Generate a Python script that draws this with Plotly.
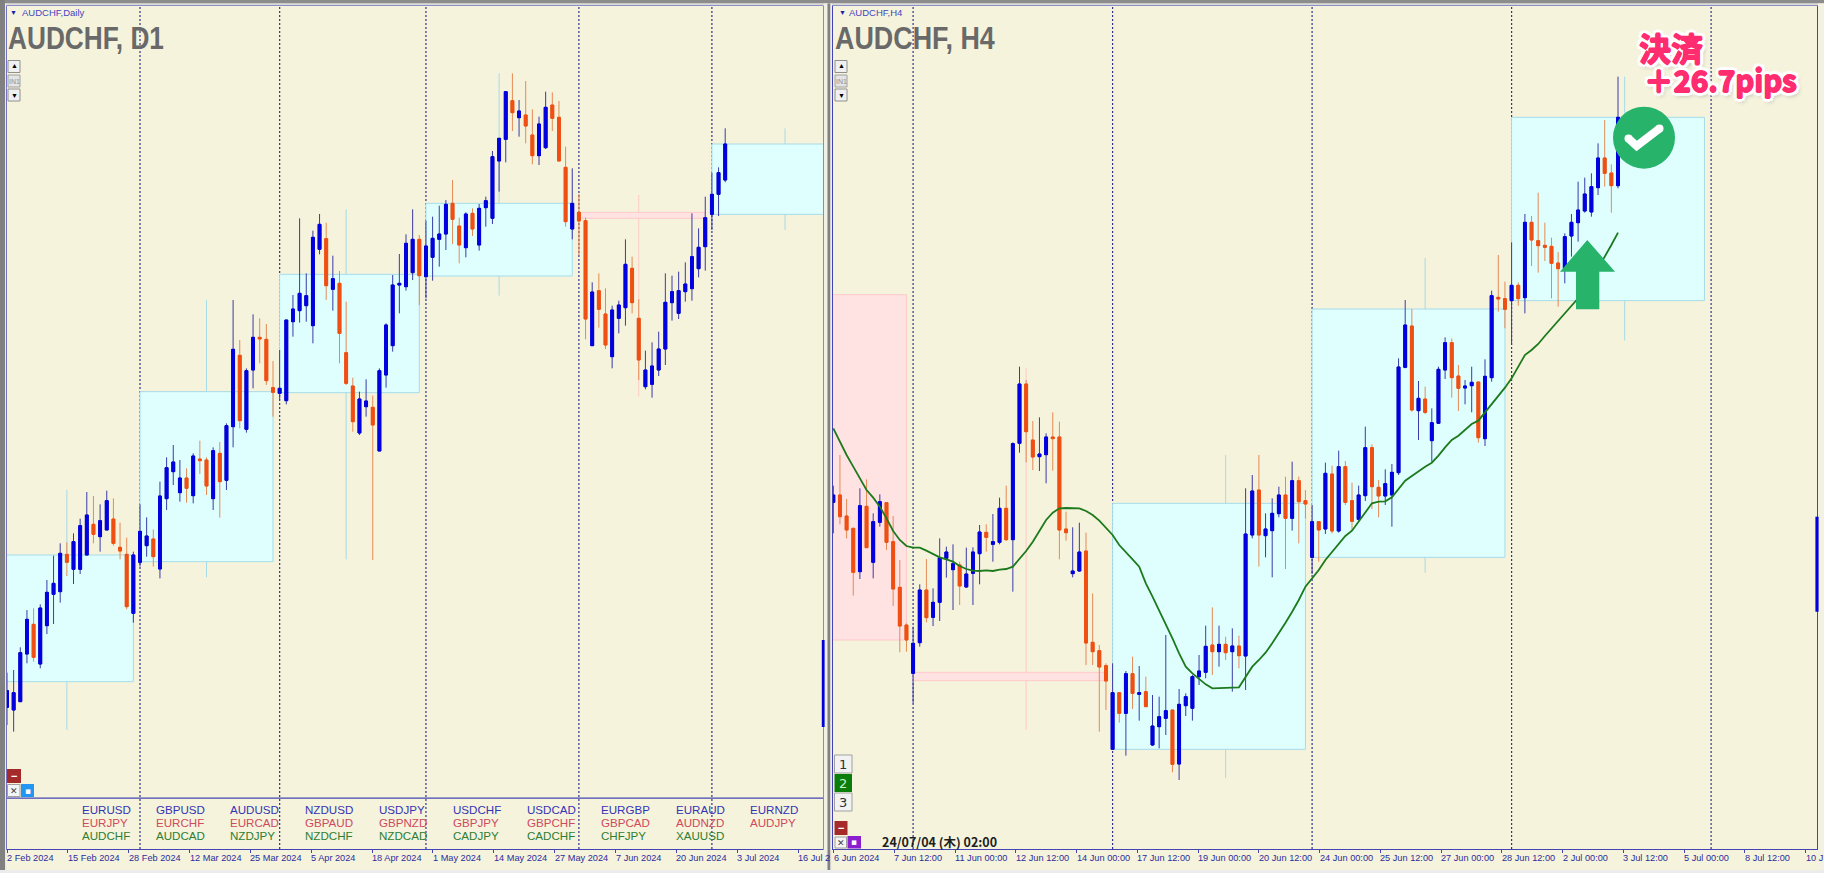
import plotly.graph_objects as go

W, H = 1824, 873

# All price levels are relative chart levels (the reference shows no price scale).
d1_open = [278,270,295,438,527,408,523,617,625,737,692,692,735,827,790,810,843,758,737,560,713,763,783,693,904,985,922,966,913,1023,1020,904,1040,959,1120,1334,1112,1290,1388,1382,1237,1220,1198,1435,1468,1483,1423,1652,1684,1532,1550,1342,1242,1101,1180,1178,1047,1275,1363,1545,1540,1582,1682,1570,1628,1682,1698,1790,1722,1657,1760,1665,1777,1745,1917,1982,2098,2047,2055,1995,1933,1957,2085,2048,1898,1713,1763,1738,1363,1528,1458,1330,1445,1477,1595,1445,1240,1247,1290,1353,1492,1460,1525,1534,1594,1660,1757,1817,1860]
d1_high = [382,390,458,570,575,587,660,733,770,773,800,844,924,912,887,928,905,832,787,745,887,848,812,955,1028,1065,1020,995,1040,1078,1028,1058,1074,1130,1500,1380,1295,1457,1445,1428,1317,1350,1440,1515,1745,1580,1708,1758,1732,1633,1587,1495,1267,1225,1262,1213,1295,1430,1575,1638,1697,1772,1695,1738,1750,1783,1800,1860,1747,1763,1775,1788,1810,1947,1985,2125,2180,2100,2157,2072,2050,2125,2123,2097,1960,1895,1818,1747,1553,1580,1535,1483,1498,1682,1630,1502,1348,1373,1405,1580,1573,1585,1613,1760,1715,1810,1882,1898,2015]
d1_low = [225,205,295,410,415,395,498,528,592,672,648,678,735,770,745,810,763,722,572,532,700,730,700,665,870,945,895,892,890,978,915,870,847,930,1058,1115,1102,1235,1310,1245,1150,1200,1187,1390,1432,1435,1370,1637,1500,1468,1310,1245,1105,1095,1150,720,1047,1237,1345,1460,1528,1560,1485,1505,1558,1600,1650,1668,1610,1628,1692,1648,1720,1728,1825,1913,2007,1990,1970,1907,1905,1953,2007,1917,1720,1682,1635,1382,1363,1417,1353,1295,1400,1423,1460,1260,1232,1207,1272,1305,1438,1443,1495,1498,1568,1588,1710,1752,1853]
d1_close = [328,322,442,542,428,576,623,650,740,713,775,823,855,797,838,898,770,747,580,735,806,792,730,912,997,1014,966,935,1032,1018,942,1048,955,1123,1352,1138,1288,1388,1383,1258,1223,1235,1440,1473,1520,1513,1688,1727,1543,1564,1400,1250,1135,1203,1197,1125,1288,1425,1545,1550,1670,1682,1573,1662,1685,1698,1787,1742,1665,1758,1713,1775,1798,1930,1985,2125,2062,2067,2022,1933,2028,2078,2045,1917,1735,1790,1737,1443,1524,1472,1365,1470,1485,1607,1492,1320,1290,1302,1353,1493,1525,1528,1548,1630,1658,1747,1817,1882,1968]

h4_open = [893,915,852,815,685,881,713,833,892,775,638,525,380,472,630,548,593,725,691,705,639,680,739,803,767,773,875,781,1070,1248,1080,1030,1036,1089,1089,813,679,687,747,473,448,403,152,322,260,379,317,325,165,220,245,270,108,283,275,370,383,465,445,467,445,462,432,795,930,793,808,859,915,845,958,898,728,835,813,978,807,1000,898,842,913,1057,938,912,915,982,1298,1422,1168,1203,1078,1130,1290,1372,1272,1236,1243,1254,1084,1267,1508,1504,1498,1544,1507,1733,1678,1664,1661,1611,1595,1692,1732,1767,1764,1837,1926,1881,1843]
h4_high = [943,1035,903,817,935,962,860,917,893,852,720,530,520,647,723,635,785,760,767,715,757,758,825,827,858,907,943,1073,1300,1260,1137,1148,1100,1163,1135,865,818,832,802,620,465,410,410,322,387,430,402,370,315,310,495,270,333,320,375,435,523,578,523,490,515,493,935,975,1035,860,905,940,970,1015,970,930,885,835,1012,1003,1048,1017,952,943,1120,1067,960,992,1008,1325,1500,1473,1257,1240,1175,1300,1388,1385,1305,1260,1300,1255,1322,1528,1635,1555,1673,1553,1758,1752,1822,1732,1687,1644,1700,1758,1855,1867,1880,1970,2040,1907,2170]
h4_low = [800,827,785,613,663,757,665,820,750,582,443,445,290,460,533,522,537,667,570,585,637,585,647,745,715,767,777,625,1042,1013,990,987,950,988,722,778,668,685,405,405,205,270,150,232,133,273,238,280,162,155,195,83,60,252,238,345,365,375,400,420,325,395,330,785,700,728,668,848,693,808,770,845,678,715,798,800,802,885,810,838,897,873,848,885,820,975,1295,1165,1080,1158,1015,1130,1263,1207,1167,1187,1163,1072,1062,1255,1465,1415,1365,1483,1460,1602,1582,1617,1505,1480,1550,1630,1675,1762,1750,1815,1840,1762,1835]
h4_close = [915,850,810,683,883,757,835,895,773,633,522,480,470,630,547,593,727,744,709,642,678,744,804,788,775,875,781,1069,1248,1105,1029,1038,1089,1084,810,802,687,744,471,445,399,357,322,260,379,320,322,280,222,250,268,107,287,310,370,387,461,445,467,442,462,433,798,927,795,813,860,915,845,958,895,888,835,810,980,807,1000,893,836,915,1057,940,912,949,983,1299,1425,1170,1205,1163,1132,1292,1372,1267,1235,1242,1253,1087,1271,1513,1503,1472,1544,1504,1733,1680,1663,1658,1610,1594,1690,1733,1770,1818,1840,1926,1880,1843,2048]
h4_ma = [1115,1073,1035,1000,965,930,907,880,845,807,780,762,757,757,748,737,728,722,715,702,693,688,687,689,687,691,693,700,722,747,775,808,840,862,875,876,876,875,867,855,838,818,795,765,745,722,700,650,610,570,525,485,440,400,380,362,347,335,335,335,337,338,370,400,420,442,470,500,532,565,600,640,665,690,720,745,770,792,808,835,862,890,895,896,908,933,958,972,987,1000,1012,1033,1058,1080,1093,1112,1128,1138,1163,1185,1210,1237,1265,1298,1335,1350,1368,1392,1415,1438,1460,1482,1505,1540,1565,1595,1628,1665,1702]

# Higher-timeframe boxes: start, end, centre, top, bottom, high, low, colour group
d1_box_start = [-1,20,41,63,86,106]
d1_box_end = [19,40,62,85,105,123]
d1_box_mid = [9,30,51,74,95,117]
d1_box_top = [735,1225,1577,1790,1763,1968]
d1_box_bottom = [355,715,1222,1572,1745,1757]
d1_box_high = [930,1500,1772,2180,1815,2015]
d1_box_low = [210,668,722,1513,1210,1710]
d1_box_up = [True,True,True,True,False,True]

h4_box_start = [-2,12,42,72,102]
h4_box_end = [11,41,71,101,131]
h4_box_mid = [None,29,59,89,119]
h4_box_top = [1516,383,890,1473,2048]
h4_box_bottom = [480,358,152,728,1498]
h4_box_high = [1516,1295,1035,1626,2170]
h4_box_low = [480,210,66,682,1378]
h4_box_up = [False,False,True,True,True]

d1_separators = [20,41,63,86,106]
h4_separators = [12,42,72,102,132]

d1_tick_labels = ["2 Feb 2024","15 Feb 2024","28 Feb 2024","12 Mar 2024","25 Mar 2024","5 Apr 2024","18 Apr 2024","1 May 2024","14 May 2024","27 May 2024","7 Jun 2024","20 Jun 2024","3 Jul 2024","16 Jul 2"]
h4_tick_labels = ["6 Jun 2024","7 Jun 12:00","11 Jun 00:00","12 Jun 12:00","14 Jun 00:00","17 Jun 12:00","19 Jun 00:00","20 Jun 12:00","24 Jun 00:00","25 Jun 12:00","27 Jun 00:00","28 Jun 12:00","2 Jul 00:00","3 Jul 12:00","5 Jul 00:00","8 Jul 12:00","10 J"]

pairs_blue = ["EURUSD","GBPUSD","AUDUSD","NZDUSD","USDJPY","USDCHF","USDCAD","EURGBP","EURAUD","EURNZD"]
pairs_red = ["EURJPY","EURCHF","EURCAD","GBPAUD","GBPNZD","GBPJPY","GBPCHF","GBPCAD","AUDNZD","AUDJPY"]
pairs_green = ["AUDCHF","AUDCAD","NZDJPY","NZDCHF","NZDCAD","CADJPY","CADCHF","CHFJPY","XAUUSD"]

for a in (d1_high, d1_low, d1_close):
    assert len(a) == len(d1_open)
for a in (h4_high, h4_low, h4_close, h4_ma):
    assert len(a) == len(h4_open)

CREAM = "#f5f3dc"; CYAN = "#dfffff"; CYAN_EDGE = "#a6dbe8"; PINK = "#ffe2e2"; PINK_EDGE = "#ffc9c9"
BLUE = "#0000e0"; ORANGE = "#f04e12"; BLUE_WICK = "#3a3aa8"; ORANGE_WICK = "#e58a55"
FRAME = "#4444b4"; SEP = "#33338c"; LABEL = "#2c2c9c"; GREEN = "#27b36a"

CHART_TOP, CHART_BOTTOM = 6, 849
STEP = 6.65
L_X0, L_X1, L_I0 = 7, 823, 7
R_X0, R_X1, R_I0 = 832.5, 1817, 833.3
Y_RANGE = [2400 - 3 * CHART_BOTTOM, 2400 - 3 * CHART_TOP]


def px(x):
    return x / W


def py(y):
    return 1 - y / H


def candle_traces(o, h, l, c, xa, ya):
    x = list(range(len(o)))
    wick = go.Candlestick(
        x=x, open=o, high=h, low=l, close=c, xaxis=xa, yaxis=ya, whiskerwidth=0,
        increasing=dict(line=dict(color=BLUE_WICK, width=1), fillcolor=BLUE),
        decreasing=dict(line=dict(color=ORANGE_WICK, width=1), fillcolor=ORANGE),
        showlegend=False, hoverinfo="skip")
    body = go.Candlestick(
        x=x, open=o, close=c,
        high=[max(a, b) for a, b in zip(o, c)], low=[min(a, b) for a, b in zip(o, c)],
        xaxis=xa, yaxis=ya, whiskerwidth=0,
        increasing=dict(line=dict(color=BLUE, width=1), fillcolor=BLUE),
        decreasing=dict(line=dict(color=ORANGE, width=1), fillcolor=ORANGE),
        showlegend=False, hoverinfo="skip")
    return [wick, body]


shapes = []
ann = []


def rect(x0, y0, x1, y1, fill, line=None, lw=1):
    shapes.append(dict(type="rect", xref="paper", yref="paper", x0=px(x0), x1=px(x1), y0=py(y0), y1=py(y1),
                       fillcolor=fill, line=dict(color=line or fill, width=lw if line else 0), layer="above"))


def text(x, y, s, size, color, anchor="left", family="Liberation Sans", **font):
    ann.append(dict(xref="paper", yref="paper", x=px(x), y=py(y), text=s, showarrow=False, xanchor=anchor,
                    yanchor="middle", align="left", borderpad=0,
                    font=dict(family=family, size=size, color=color, **font)))


def separators(vals, xa, ya):
    for v in vals:
        shapes.append(dict(type="line", xref=xa, yref=ya, x0=v, x1=v, y0=Y_RANGE[0], y1=Y_RANGE[1], layer="below",
                           line=dict(color=SEP, width=1.2, dash="2px,2px")))


def boxes(start, end, mid, top, bottom, high, low, up, xa, ya):
    for i in range(len(start)):
        fill, edge = (CYAN, CYAN_EDGE) if up[i] else (PINK, PINK_EDGE)
        if mid[i] is not None:
            shapes.append(dict(type="line", xref=xa, yref=ya, x0=mid[i], x1=mid[i], y0=low[i], y1=high[i],
                               layer="below", line=dict(color=edge, width=1)))
        shapes.append(dict(type="rect", xref=xa, yref=ya, x0=start[i], x1=end[i], y0=bottom[i], y1=top[i],
                           layer="below", fillcolor=fill, line=dict(color=edge, width=1)))


separators(d1_separators, "x", "y")
separators(h4_separators, "x2", "y2")
boxes(d1_box_start, d1_box_end, d1_box_mid, d1_box_top, d1_box_bottom, d1_box_high, d1_box_low, d1_box_up, "x", "y")
boxes(h4_box_start, h4_box_end, h4_box_mid, h4_box_top, h4_box_bottom, h4_box_high, h4_box_low, h4_box_up, "x2", "y2")

traces = candle_traces(d1_open, d1_high, d1_low, d1_close, "x", "y")
traces += candle_traces(h4_open, h4_high, h4_low, h4_close, "x2", "y2")
traces.append(go.Scatter(x=list(range(len(h4_ma))), y=h4_ma, mode="lines", xaxis="x2", yaxis="y2", showlegend=False,
                         hoverinfo="skip", line=dict(color="#1c7a1c", width=1.8)))

# Window chrome
rect(0, 0, W, 3.5, "#8c8c8c")
rect(0, 3.5, W, 5.5, "#d8d8d8")
rect(0, 0, 5, 870, "#808080")
rect(5, 3.5, 6.3, 870, "#e8e8e8")
rect(823.6, 3.5, 827.5, 873, "#f0f0e4")
rect(827.5, 3.5, 830.5, 873, "#808080")
rect(830.5, 3.5, 832, 873, "#ececec")
rect(1818, 3.5, W, 873, "#f3f2e2")
rect(0, 870, W, 873, "#ececec")
# D1 indicator panel separator
rect(7, 797.4, 823, 798.8, FRAME)
# Position bars at the right edge of each window
rect(821.8, 640, 824.6, 727, "#0000d8")
rect(1815.4, 516.7, 1818.6, 611.7, "#0000d8")

# Window captions
text(9, 13, "▼", 7, "#2020b0")
text(21, 13, "AUDCHF,Daily", 9.5, "#4444c0")
text(838, 13, "▼", 7, "#2020b0")
text(848, 13, "AUDCHF,H4", 9.5, "#4444c0")
text(7, 38.5, "<b>AUDCHF, D1</b>", 32, "#696969")
text(833.5, 38.5, "<b>AUDCHF, H4</b>", 32, "#696969")

# Chart scroll buttons
for x0 in (8, 835):
    rect(x0, 60.5, x0 + 12, 72.5, "#f0f0f0", "#909090")
    text(x0 + 6, 66, "▲", 7, "#000000", anchor="center")
    rect(x0, 75, x0 + 12, 87, "#e4e4e4", "#a0a0a0")
    text(x0 + 6, 81, "IN1", 7, "#909090", anchor="center")
    rect(x0, 89, x0 + 12, 101, "#f0f0f0", "#909090")
    text(x0 + 6, 95, "▼", 7, "#000000", anchor="center")

# D1 bottom-left buttons
rect(7, 769, 21, 783, "#a52a2a")
text(14, 775.5, "<b>−</b>", 11, "#ffffff", anchor="center")
rect(7.5, 784.5, 20, 796.5, "#f4f4f4", "#a0a0a0")
text(13.7, 790.5, "✕", 9, "#404040", anchor="center", family="DejaVu Sans")
rect(21, 784, 34, 797, "#2196f3")
text(27.5, 790.5, "▪", 9, "#ffffff", anchor="center", family="DejaVu Sans")

# H4 bottom-left buttons
for y0, lab, fill, col in ((755, "1", "#f2f2f2", "#303030"), (774, "2", "#0a7d0a", "#c8f0c8"), (793, "3", "#f2f2f2", "#303030")):
    rect(834.5, y0, 852, y0 + 18, fill, "#a0a0a0" if fill != "#0a7d0a" else None)
    text(843.2, y0 + 9.2, lab, 13, col, anchor="center", family="DejaVu Sans")
rect(834.5, 821, 847.5, 835, "#a52a2a")
text(841, 827.5, "<b>−</b>", 11, "#ffffff", anchor="center")
rect(835, 837, 846.5, 848, "#f4f4f4", "#a0a0a0")
text(840.7, 842.5, "✕", 9, "#404040", anchor="center", family="DejaVu Sans")
rect(847.5, 836, 861, 848.5, "#8a1fd0")
text(854.2, 842.3, "▪", 9, "#ffffff", anchor="center", family="DejaVu Sans")
text(881, 841, "<b>24/07/04 (木) 02:00</b>", 12.5, "#1e1e1e", family="Noto Sans CJK JP")

# Pair list in the D1 indicator panel
PAIR_X0, PAIR_DX = 81, 74.2
for row_y, names, color in ((809, pairs_blue, "#3434b4"), (822, pairs_red, "#cf4a5c"), (835, pairs_green, "#2e7d32")):
    for k, name in enumerate(names):
        text(PAIR_X0 + PAIR_DX * k, row_y, name, 11.6, color)

# Tick labels, left-aligned at their ticks
D1_TICK_STEP = 60.85 / STEP
H4_TICK_STEP = 60.75 / STEP
d1_ticks = [k * D1_TICK_STEP for k in range(len(d1_tick_labels))]
h4_ticks = [0.06 + k * H4_TICK_STEP for k in range(len(h4_tick_labels))]
for t, s in zip(d1_ticks, d1_tick_labels):
    ann.append(dict(xref="x", yref="paper", x=t, y=py(857.5), text=s, showarrow=False, xanchor="left", yanchor="middle",
                    xshift=-1, borderpad=0, font=dict(family="Liberation Sans", size=9.2, color=LABEL)))
for t, s in zip(h4_ticks, h4_tick_labels):
    ann.append(dict(xref="x2", yref="paper", x=t, y=py(857.5), text=s, showarrow=False, xanchor="left", yanchor="middle",
                    xshift=-1, borderpad=0, font=dict(family="Liberation Sans", size=9.2, color=LABEL)))

# Trade annotations
arrow = [(1587.3, 240), (1615, 271.7), (1599.3, 271.7), (1599.3, 309.3), (1576, 309.3), (1576, 271.7), (1560, 271.7)]
shapes.append(dict(type="path", xref="paper", yref="paper", layer="above", fillcolor=GREEN, line=dict(width=0),
                   path="M " + " L ".join(f"{px(a):.5f} {py(b):.5f}" for a, b in arrow) + " Z"))
shapes.append(dict(type="circle", xsizemode="pixel", ysizemode="pixel", xref="paper", yref="paper",
                   xanchor=px(1644), yanchor=py(137.7), x0=-31, x1=31, y0=-31, y1=31,
                   layer="above", fillcolor=GREEN, line=dict(width=0)))
check = [(1628.5, 138.5), (1636.7, 146), (1659.5, 128.5)]
shapes.append(dict(type="path", xref="paper", yref="paper", layer="above", line=dict(color="#ffffff", width=8),
                   path="M " + " L ".join(f"{px(a):.5f} {py(b):.5f}" for a, b in check)))
for a, b in (check[0], check[2]):
    shapes.append(dict(type="circle", xsizemode="pixel", ysizemode="pixel", xref="paper", yref="paper",
                       xanchor=px(a), yanchor=py(b), x0=-4, x1=4, y0=-4, y1=4, layer="above",
                       fillcolor="#ffffff", line=dict(width=0)))

PINK_TEXT = "#ff2d6f"
FAKE_BOLD = [f"{a}px {b}px 0 {PINK_TEXT}" for a, b in ((0.8, 0), (-0.8, 0), (0, 0.8), (0, -0.8))]
WHITE_RING = [f"{a}px {b}px 1px #ffffff" for a, b in ((4, 0), (-4, 0), (0, 4), (0, -4), (3, 3), (-3, 3), (3, -3), (-3, -3))]
SHADOW = ",".join(FAKE_BOLD + WHITE_RING + ["2px 3px 5px #888888"])
text(1638, 47, "<b>決済</b>", 32, PINK_TEXT, family="Noto Sans CJK JP", shadow=SHADOW)
text(1643, 78.5, "<b>＋26.7pips</b>", 29.5, PINK_TEXT, family="Noto Sans CJK JP", shadow=SHADOW)


def axis_style(**kw):
    return dict(showgrid=False, zeroline=False, showline=True, linecolor=FRAME, linewidth=1, mirror=True,
                showticklabels=False, **kw)


fig = go.Figure(traces)
fig.update_layout(
    width=W, height=H, autosize=False, margin=dict(l=0, r=0, t=0, b=0, pad=0), paper_bgcolor=CREAM, plot_bgcolor=CREAM,
    showlegend=False, boxmode="overlay", boxgap=0.38, shapes=shapes, annotations=ann, hovermode=False,
    xaxis=axis_style(domain=[px(L_X0), px(L_X1)], range=[(L_X0 - L_I0) / STEP, (L_X1 - L_I0) / STEP], anchor="y",
                     tickmode="array", tickvals=d1_ticks, ticks="outside", ticklen=3, tickcolor=FRAME, rangeslider=dict(visible=False)),
    yaxis=axis_style(domain=[py(CHART_BOTTOM), py(CHART_TOP)], range=Y_RANGE, anchor="x", ticks=""),
    xaxis2=axis_style(domain=[px(R_X0), px(R_X1)], range=[(R_X0 - R_I0) / STEP, (R_X1 - R_I0) / STEP], anchor="y2",
                      tickmode="array", tickvals=h4_ticks, ticks="outside", ticklen=3, tickcolor=FRAME, rangeslider=dict(visible=False)),
    yaxis2=axis_style(domain=[py(CHART_BOTTOM), py(CHART_TOP)], range=Y_RANGE, anchor="x2", ticks=""),
)

# The window title uses a condensed face: narrow the real text horizontally around its left edge.
POST = """
document.body.style.margin='0';document.body.style.overflow='hidden';
function narrowTitles(){
  document.querySelectorAll('.annotation-text').forEach(function(t){
    var s=t.textContent;
    if(s==='AUDCHF, D1'||s==='AUDCHF, H4'){
      t.style.transformBox='fill-box';t.style.transformOrigin='left center';
      t.style.transform='scaleX('+(s==='AUDCHF, D1'?0.82:0.84)+')';
    }
  });
}
narrowTitles();setTimeout(narrowTitles,0);setTimeout(narrowTitles,200);
"""
fig.write_html("out.html", config=dict(displayModeBar=False), post_script=POST)
